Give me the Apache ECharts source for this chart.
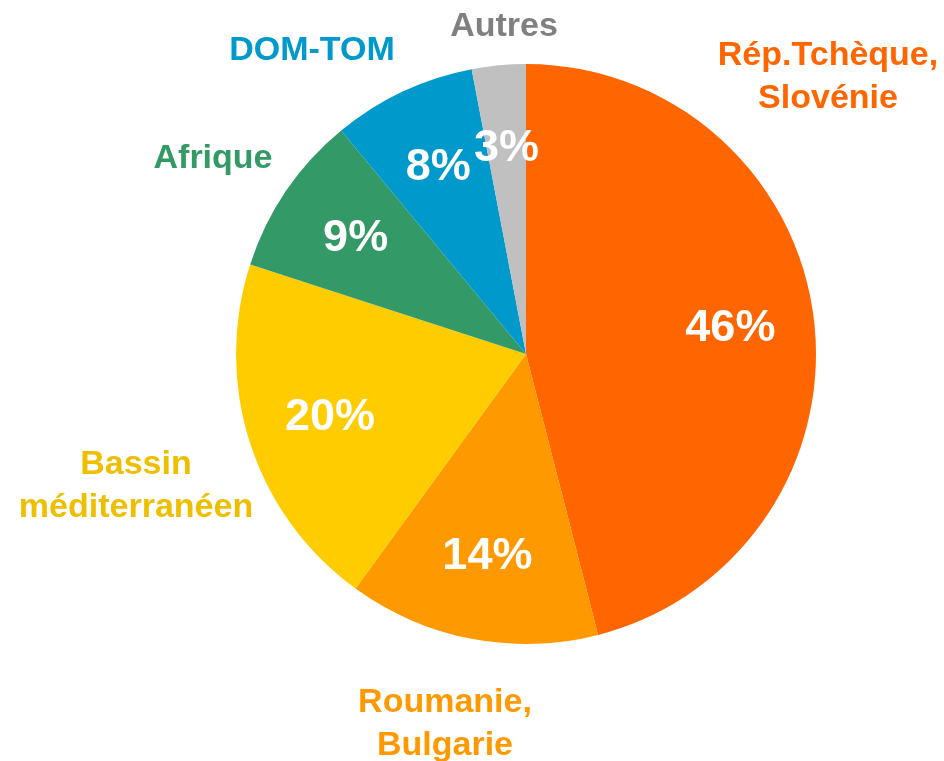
<!DOCTYPE html>
<html>
<head>
<meta charset="utf-8">
<script src="https://cdn.jsdelivr.net/npm/echarts@6/dist/echarts.min.js"></script>
<style>
  html, body { margin: 0; padding: 0; background: #fff; }
  #chart { width: 944px; height: 761px; }
</style>
</head>
<body>
<div id="chart"></div>
<script>
// données
const regions = ["Rép.Tchèque,\nSlovénie", "Roumanie,\nBulgarie", "Bassin\nméditerranéen", "Afrique", "DOM-TOM", "Autres"];
const shares = [46, 14, 20, 9, 8, 3];

// couleurs
const sliceColors = ["#FF6600", "#FF9900", "#FFCC00", "#339966", "#0099CC", "#C0C0C0"];
const nameColors = ["#FF6600", "#FF9900", "#EEBF00", "#339966", "#0099CC", "#808080"];

// position des étiquettes extérieures (centre du bloc de texte)
const namePos = [[828, 77], [445, 724], [136, 486], [213, 159], [312, 51], [504, 27]];

const center = [526, 354];
const R = 290;
const font = "'Liberation Sans', Arial, sans-serif";

const chart = echarts.init(document.getElementById("chart"));

const option = {
  animation: false,
  series: [
    {
      // secteurs + noms
      type: "pie",
      center: center,
      radius: [0, R],
      startAngle: 90,
      clockwise: true,
      silent: true,
      data: regions.map((n, i) => ({
        name: n,
        value: shares[i],
        itemStyle: { color: sliceColors[i] },
        label: { color: nameColors[i] },
      })),
      itemStyle: { borderWidth: 0 },
      label: {
        show: true,
        position: "outside",
        formatter: "{b}",
        fontFamily: font,
        fontWeight: "bold",
        fontSize: 34,
        lineHeight: 43,
        align: "center",
        overflow: "none",
      },
      labelLine: { show: false },
      labelLayout: (p) => ({
        x: namePos[p.dataIndex][0],
        y: namePos[p.dataIndex][1],
        align: "center",
        verticalAlign: "middle",
      }),
    },
    {
      // pourcentages
      type: "pie",
      center: center,
      radius: [116, R],
      startAngle: 90,
      clockwise: true,
      silent: true,
      data: regions.map((n, i) => ({ name: n, value: shares[i] })),
      itemStyle: { color: "rgba(0,0,0,0)", borderWidth: 0 },
      label: {
        show: true,
        position: "inside",
        formatter: (p) => p.value + "%",
        color: "#fff",
        fontFamily: font,
        fontWeight: "bold",
        fontSize: 45,
        overflow: "none",
      },
      labelLine: { show: false },
    },
  ],
};

chart.setOption(option);
</script>
</body>
</html>
